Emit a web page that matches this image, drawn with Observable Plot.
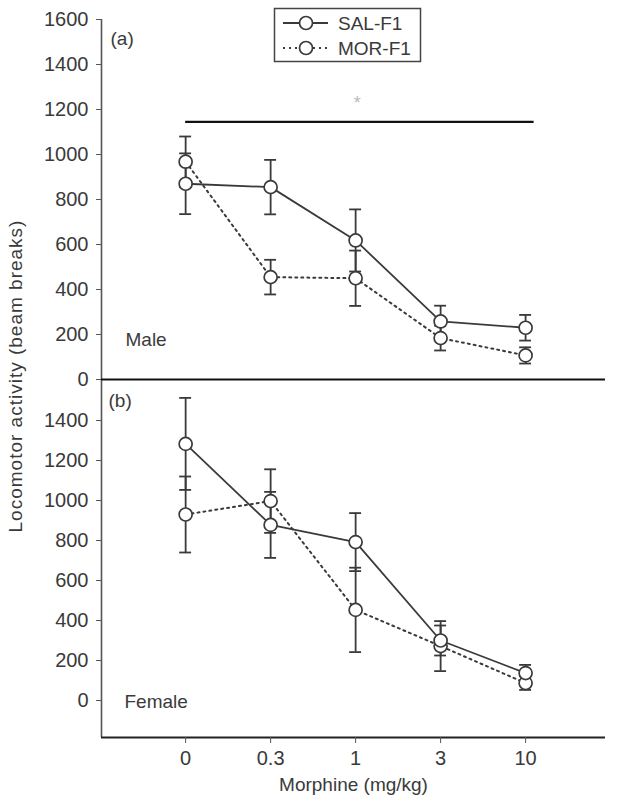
<!DOCTYPE html>
<html>
<head>
<meta charset="utf-8">
<script src="https://cdn.jsdelivr.net/npm/d3@7"></script>
<script src="https://cdn.jsdelivr.net/npm/@observablehq/plot@0.6"></script>
<style>
  html, body { margin: 0; padding: 0; background: #fff; }
  #root { position: relative; width: 624px; height: 810px; overflow: hidden; font-family: "Liberation Sans", Arial, sans-serif; color: #3a3a3a; }
  #top { position: absolute; left: 0; top: 0; z-index: 2; }
  #bottom { position: absolute; left: 0; top: 379px; z-index: 1; }
  #top svg, #bottom svg { overflow: visible; }
  #ylabel { position: absolute; left: 16px; top: 376px; transform: translate(-50%, -50%) rotate(-90deg); white-space: nowrap; font-size: 19px; letter-spacing: 1px; color: #3a3a3a; z-index: 3; }
  #legend { position: absolute; left: 0; top: 0; z-index: 4; }
</style>
</head>
<body>
<div id="root">
  <div id="top"></div>
  <div id="bottom"></div>
  <div id="ylabel">Locomotor activity (beam breaks)</div>
  <svg id="legend" width="624" height="70"></svg>
</div>
<script>
// ---- data ----
const doses = ["0", "0.3", "1", "3", "10"];
const seriesNames = ["SAL-F1", "MOR-F1"];

const maleSAL = [870, 855, 618, 258, 230];
const maleSALerr = [135, 121, 138, 70, 57];
const maleMOR = [968, 455, 450, 184, 107];
const maleMORerr = [112, 77, 123, 55, 36];

const femaleSAL = [1283, 878, 792, 300, 137];
const femaleSALerr = [230, 165, 145, 75, 41];
const femaleMOR = [930, 997, 453, 272, 87];
const femaleMORerr = [190, 159, 211, 125, 34];

const topTicks = [0, 200, 400, 600, 800, 1000, 1200, 1400, 1600];
const bottomTicks = [0, 200, 400, 600, 800, 1000, 1200, 1400];
const sigBar = [{y: 1145, from: 0, to: 4.1}];
const sigMark = [{x: 2.02, y: 1227, label: "*"}];

// ---- helpers ----
const ink = "#3a3a3a";
const font = "Liberation Sans, Arial, sans-serif";
const xDomain = [-0.99, 4.94];
const rows = (vals, errs) => vals.map((v, i) => ({i, v, e: errs[i]}));

function panelMarks(sal, mor, ticks) {
  return [
    Plot.ruleX([xDomain[0]], {stroke: "#555", strokeWidth: 1.6}),
    Plot.axisY({ticks, tickFormat: d => String(d), tickSize: 5, tickPadding: 8, fontSize: 20, label: null, stroke: "#555", fill: ink}),
    Plot.line(sal, {x: "i", y: "v", stroke: ink, strokeWidth: 1.8}),
    Plot.line(mor, {x: "i", y: "v", stroke: ink, strokeWidth: 2, strokeDasharray: "2,4"}),
    ...[sal, mor].flatMap(d => [
      Plot.ruleX(d, {x: "i", y1: r => r.v - r.e, y2: r => r.v + r.e, stroke: ink, strokeWidth: 1.8}),
      Plot.ruleY(d, {y: r => r.v + r.e, x1: r => r.i - 0.07, x2: r => r.i + 0.07, stroke: ink, strokeWidth: 1.8}),
      Plot.ruleY(d, {y: r => r.v - r.e, x1: r => r.i - 0.07, x2: r => r.i + 0.07, stroke: ink, strokeWidth: 1.8})
    ]),
    Plot.dot(mor, {x: "i", y: "v", r: 6.5, fill: "white", stroke: ink, strokeWidth: 1.7}),
    Plot.dot(sal, {x: "i", y: "v", r: 6.5, fill: "white", stroke: ink, strokeWidth: 1.7})
  ];
}

// ---- top panel (a) Male ----
const topPlot = Plot.plot({
  width: 624, height: 380,
  marginTop: 19, marginBottom: 1, marginLeft: 101, marginRight: 19,
  style: {fontFamily: font, fontSize: "20px", color: ink, background: "transparent", overflow: "visible"},
  x: {domain: xDomain, axis: null},
  y: {domain: [0, 1600], axis: null},
  marks: [
    Plot.ruleY(sigBar, {y: "y", x1: "from", x2: "to", stroke: "#111", strokeWidth: 2.2}),
    Plot.text(sigMark, {x: "x", y: "y", text: "label", fill: "#bbb", fontSize: 18}),
    ...panelMarks(rows(maleSAL, maleSALerr), rows(maleMOR, maleMORerr), topTicks),
    Plot.ruleY([0], {stroke: "#111", strokeWidth: 2.2}),
    Plot.text(["(a)"], {frameAnchor: "top-left", dx: 9, dy: 12, fontSize: 19, fill: ink, textAnchor: "start"}),
    Plot.text(["Male"], {frameAnchor: "bottom-left", dx: 24, dy: -34, fontSize: 19, fill: ink, textAnchor: "start"})
  ]
});
document.getElementById("top").appendChild(topPlot);

// ---- bottom panel (b) Female ----
const yDomB = [-185, 1605];
const bottomPlot = Plot.plot({
  width: 624, height: 431,
  marginTop: 0, marginBottom: 73, marginLeft: 101, marginRight: 19,
  style: {fontFamily: font, fontSize: "20px", color: ink, background: "transparent", overflow: "visible"},
  x: {domain: xDomain, axis: null},
  y: {domain: yDomB, axis: null},
  marks: [
    ...panelMarks(rows(femaleSAL, femaleSALerr), rows(femaleMOR, femaleMORerr), bottomTicks),
    Plot.ruleY([yDomB[0]], {stroke: "#222", strokeWidth: 2}),
    Plot.axisX({ticks: [0, 1, 2, 3, 4], tickFormat: i => doses[i], tickSize: 6, tickPadding: 7, fontSize: 20, label: null, stroke: "#555", fill: ink}),
    Plot.text(["Morphine (mg/kg)"], {frameAnchor: "bottom", dy: 53, fontSize: 19, fill: ink}),
    Plot.text(["(b)"], {frameAnchor: "top-left", dx: 7, dy: 14, fontSize: 19, fill: ink, textAnchor: "start"}),
    Plot.text(["Female"], {frameAnchor: "bottom-left", dx: 23, dy: -30, fontSize: 19, fill: ink, textAnchor: "start"})
  ]
});
document.getElementById("bottom").appendChild(bottomPlot);

// ---- legend ----
const lg = d3.select("#legend");
lg.append("rect").attr("x", 274.5).attr("y", 8.5).attr("width", 146).attr("height", 53)
  .attr("fill", "white").attr("stroke", "#444").attr("stroke-width", 1.5);
seriesNames.forEach((name, k) => {
  const y = 23 + k * 25;
  lg.append("line").attr("x1", 283).attr("x2", 328).attr("y1", y).attr("y2", y)
    .attr("stroke", ink).attr("stroke-width", k === 0 ? 1.8 : 2)
    .attr("stroke-dasharray", k === 0 ? null : "2,4");
  lg.append("circle").attr("cx", 306).attr("cy", y).attr("r", 6.5)
    .attr("fill", "white").attr("stroke", ink).attr("stroke-width", 1.7);
  lg.append("text").attr("x", 338).attr("y", y).attr("dy", "0.35em")
    .attr("font-family", font).attr("font-size", 19).attr("fill", ink).text(name);
});
</script>
</body>
</html>
